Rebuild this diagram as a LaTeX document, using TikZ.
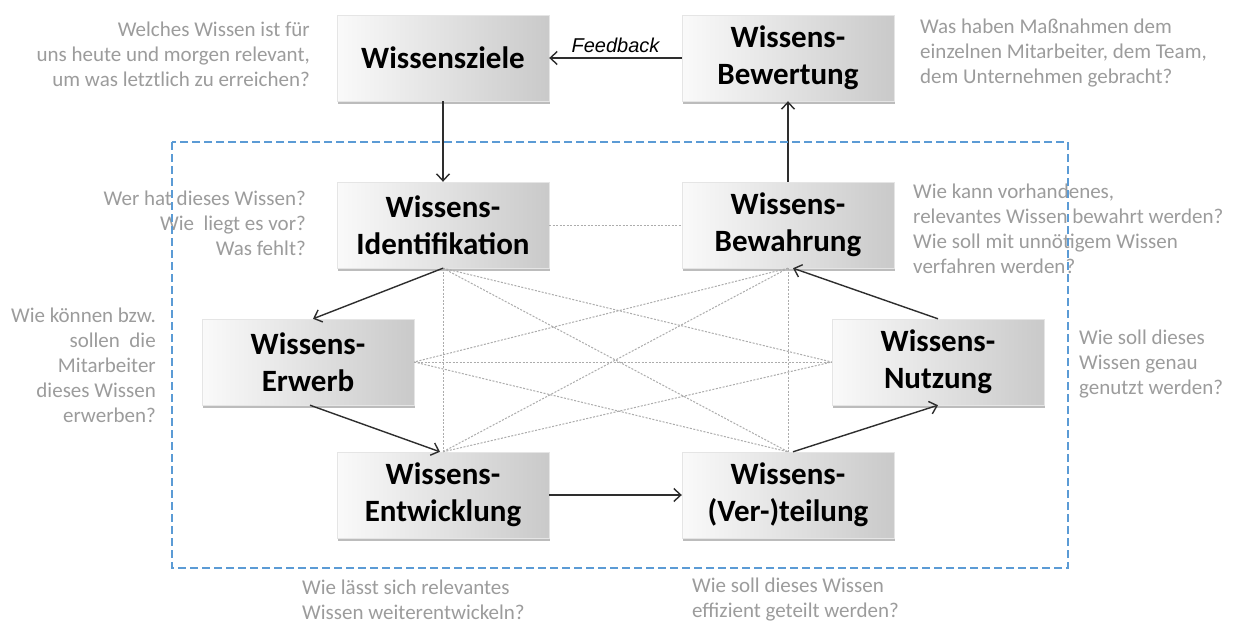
\documentclass[tikz,border=0pt]{standalone}
\usepackage{fontspec}
\setmainfont{Carlito}
\newfontfamily\arialfont{Liberation Sans}
\usetikzlibrary{arrows.meta,shadows}
\definecolor{qgray}{HTML}{9C9C9C}
\definecolor{bluedash}{HTML}{5B9BD5}
\definecolor{arrowc}{HTML}{2E2E2E}
\begin{document}
\begin{tikzpicture}[x=1pt,y=-1pt,
  box/.style={minimum width=212pt, minimum height=86pt, inner sep=0pt,
    left color=gray!4, right color=gray!42, draw=gray!20, line width=0.4pt,
    drop shadow={shadow xshift=0.5pt, shadow yshift=-3pt, opacity=0.4, fill=gray!70!black},
    font=\fontsize{31}{37}\selectfont\bfseries, align=center, text=black},
  qtext/.style={font=\fontsize{21}{25}\selectfont, text=qgray, inner sep=0pt},
  flow/.style={draw=arrowc, line width=1.4pt, -{Straight Barb[length=7pt,width=13pt,line width=1.4pt]}},
  dots/.style={draw=gray!65, line width=1pt, dash pattern=on 2pt off 1.5pt},
  frame/.style={draw=bluedash, line width=2.6pt, dash pattern=on 8pt off 4pt}
]
\useasboundingbox (0,0) rectangle (1235,624);
\fill[white] (0,0) rectangle (1235,624);

% boxes
\node[box] (ziele) at (443,58) {Wissensziele};
\node[box] (bewertung) at (788,58) {Wissens-\\Bewertung};
\node[box] (ident) at (443,225) {Wissens-\\Identifikation};
\node[box] (bewahrung) at (788,225) {Wissens-\\Bewahrung};
\node[box] (erwerb) at (308,362) {Wissens-\\Erwerb};
\node[box] (nutzung) at (938,362) {Wissens-\\Nutzung};
\node[box] (entw) at (443,495) {Wissens-\\Entwicklung};
\node[box] (vert) at (788,495) {Wissens-\\(Ver-)teilung};

% dotted cross connections
\draw[dots] (ident.east) -- (bewahrung.west);
\draw[dots] (ident.south) -- (entw.north);
\draw[dots] (ident.south) -- (nutzung.west);
\draw[dots] (ident.south) -- (vert.north);
\draw[dots] (bewahrung.south) -- (erwerb.east);
\draw[dots] (bewahrung.south) -- (entw.north);
\draw[dots] (bewahrung.south) -- (vert.north);
\draw[dots] (erwerb.east) -- (nutzung.west);
\draw[dots] (erwerb.east) -- (vert.north);
\draw[dots] (entw.north) -- (nutzung.west);

% flow arrows
\draw[flow] (bewertung.west) -- node[above=1pt, font=\arialfont\itshape\fontsize{20}{23}\selectfont, text=black] (fb) {Feedback} (ziele.east);
\draw[flow] (ziele.south) -- (ident.north);
\draw[flow] (bewahrung.north) -- (bewertung.south);
\draw[flow] (ident.south) -- ([xshift=5pt]erwerb.north);
\draw[flow] ([xshift=2pt]erwerb.south) -- ([xshift=-3pt]entw.north);
\draw[flow] (entw.east) -- (vert.west);
\draw[flow] ([xshift=5pt]vert.north) -- (nutzung.south);
\draw[flow] (nutzung.north) -- ([xshift=5pt]bewahrung.south);

% question texts
\node[qtext, anchor=east, align=right] (q1) at (310,54) {Welches Wissen ist für\\uns heute und morgen relevant,\\um was letztlich zu erreichen?};
\node[qtext, anchor=west, align=left] (q2) at (920,53) {Was haben Maßnahmen dem\\einzelnen Mitarbeiter, dem Team,\\dem Unternehmen gebracht?};
\node[qtext, anchor=east, align=right] (q3) at (306,223) {Wer hat dieses Wissen?\\Wie\ \ liegt es vor?\\Was fehlt?};
\node[qtext, anchor=west, align=left] (q4) at (913,229) {Wie kann vorhandenes,\\relevantes Wissen bewahrt werden?\\Wie soll mit unnötigem Wissen\\verfahren werden?};
\node[qtext, anchor=east, align=right] (q5) at (156,365) {Wie können bzw.\\sollen\ \ die\\Mitarbeiter\\dieses Wissen\\erwerben?};
\node[qtext, anchor=west, align=left] (q6) at (1079,364) {Wie soll dieses\\Wissen genau\\genutzt werden?};
\node[qtext, anchor=west, align=left] (q7) at (302,600) {Wie lässt sich relevantes\\Wissen weiterentwickeln?};
\node[qtext, anchor=west, align=left] (q8) at (692,600) {Wie soll dieses Wissen\\effizient geteilt werden?};

% blue dashed frame
\draw[frame] (172,142) rectangle (1068,568);
\end{tikzpicture}
\end{document}
